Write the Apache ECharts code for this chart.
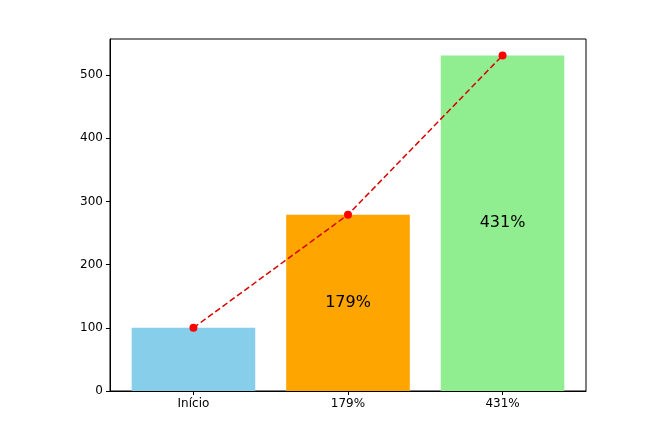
<!DOCTYPE html>
<html>
<head>
<meta charset="utf-8">
<script src="https://cdn.jsdelivr.net/npm/echarts@6/dist/echarts.min.js"></script>
<style>
  html, body { margin: 0; padding: 0; background: #fff; }
  #main { width: 665px; height: 440px; }
</style>
</head>
<body>
<div id="main"></div>
<script>
var categories = ['Início', '179%', '431%'];
var values = [100, 279, 531];
var barLabels = ['', '179%', '431%'];
var barColors = ['#87CEEB', '#FFA500', '#90EE90'];

var chart = echarts.init(document.getElementById('main'));

var barData = values.map(function (v, i) {
  return {
    value: [i, v],
    itemStyle: { color: barColors[i] },
    label: {
      show: barLabels[i] !== '',
      formatter: barLabels[i]
    }
  };
});
var lineData = values.map(function (v, i) { return [i, v]; });

var option = {
  animation: false,
  grid: {
    left: 110,
    right: 79,
    top: 39,
    bottom: 49,
    show: true,
    borderColor: '#000',
    borderWidth: 1
  },
  xAxis: {
    type: 'value',
    min: -0.54,
    max: 2.54,
    splitLine: { show: false },
    axisLine: { show: true, onZero: false, lineStyle: { color: '#000' } },
    axisTick: { show: true, length: 4, customValues: [0, 1, 2], lineStyle: { color: '#000' } },
    axisLabel: {
      customValues: [0, 1, 2],
      formatter: function (v) { return categories[Math.round(v)]; },
      color: '#000',
      fontFamily: 'DejaVu Sans',
      fontSize: 12,
      margin: 7
    }
  },
  yAxis: {
    type: 'value',
    min: 0,
    max: 557,
    interval: 100,
    splitLine: { show: false },
    axisLine: { show: true, onZero: false, lineStyle: { color: '#000' } },
    axisTick: { show: true, length: 4, lineStyle: { color: '#000' } },
    axisLabel: {
      color: '#000',
      fontFamily: 'DejaVu Sans',
      fontSize: 12,
      margin: 7,
      showMaxLabel: false
    }
  },
  series: [{
    type: 'bar',
    data: barData,
    barWidth: 123.6,
    label: {
      position: 'inside',
      color: '#000',
      fontFamily: 'DejaVu Sans',
      fontSize: 16
    }
  }, {
    type: 'line',
    data: lineData,
    symbol: 'circle',
    symbolSize: 8,
    itemStyle: { color: '#FF0000' },
    lineStyle: { color: '#D80000', width: 1.5, type: [6, 3] }
  }]
};
chart.setOption(option);
</script>
</body>
</html>
